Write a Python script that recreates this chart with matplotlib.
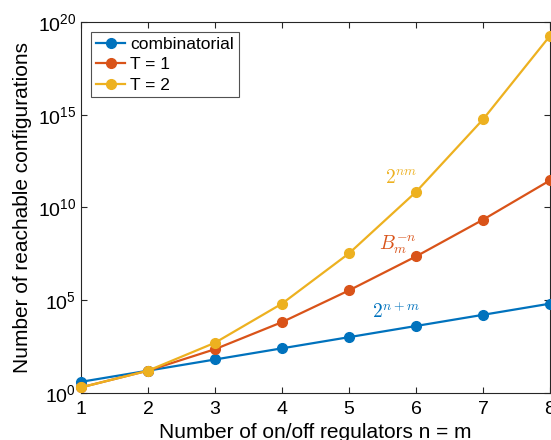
import numpy as np
import matplotlib
matplotlib.use("Agg")
import matplotlib.pyplot as plt
from matplotlib.ticker import FixedLocator, FuncFormatter, NullLocator

plt.rcParams['font.family'] = ['Liberation Sans', 'DejaVu Sans']
plt.rcParams['mathtext.fontset'] = 'custom'
plt.rcParams['mathtext.rm'] = 'Liberation Sans'
plt.rcParams['mathtext.it'] = 'Liberation Sans'

n = [1, 2, 3, 4, 5, 6, 7, 8]
combinatorial = [4, 16, 64, 256, 1024, 4096, 16384, 65536]
t1 = [2, 16, 230, 6600, 3.4e5, 2.3e7, 2.2e9, 2.9e11]
t2 = [2, 16, 512, 65536, 3.36e7, 6.9e10, 5.6e14, 1.8e19]

blue = '#0072BD'
red = '#D95319'
yel = '#EDB120'

fig = plt.figure(figsize=(5.51, 4.40), dpi=100)
ax = fig.add_axes([81/551, 47/440, 469/551, 371/440])

ax.plot(n, combinatorial, '-o', color=blue, lw=1.6, ms=7, label='combinatorial', clip_on=False, zorder=3)
ax.plot(n, t1, '-o', color=red, lw=1.6, ms=7, label='T = 1', clip_on=False, zorder=3)
ax.plot(n, t2, '-o', color=yel, lw=1.6, ms=7, label='T = 2', clip_on=False, zorder=3)

ax.set_yscale('log')
ax.set_xlim(1, 8)
ax.set_ylim(1, 1e20)
ax.yaxis.set_major_locator(FixedLocator([1, 1e5, 1e10, 1e15, 1e20]))
ax.yaxis.set_minor_locator(NullLocator())
ax.yaxis.set_major_formatter(FuncFormatter(lambda v, p: r'$10^{%d}$' % round(np.log10(v))))
ax.set_xticks(n)

ax.tick_params(direction='in', top=True, right=True, labelsize=14, length=4, color='#262626')
ax.tick_params(axis='x', pad=6)
for s in ax.spines.values():
    s.set_color('#262626')
    s.set_linewidth(0.8)

ax.set_xlabel('Number of on/off regulators n = m', fontsize=15, labelpad=3)
ax.set_ylabel('Number of reachable configurations', fontsize=15, labelpad=4)

ax.text(5.78, 4e11, r'$2^{nm}$', color=yel, fontsize=14, math_fontfamily='cm', ha='center', va='center')
ax.text(5.73, 1e8, r'$B_m^{-n}$', color=red, fontsize=14, math_fontfamily='cm', ha='center', va='center')
ax.text(5.7, 2.4e4, r'$2^{n+m}$', color=blue, fontsize=14, math_fontfamily='cm', ha='center', va='center')

leg = ax.legend(loc='upper left', fontsize=12.5, fancybox=False, edgecolor='#262626',
                handlelength=1.7, handletextpad=0.3, borderpad=0.25, labelspacing=0.3,
                borderaxespad=0.6)
leg.get_frame().set_linewidth(0.8)

fig.savefig('out.png', dpi=100)
